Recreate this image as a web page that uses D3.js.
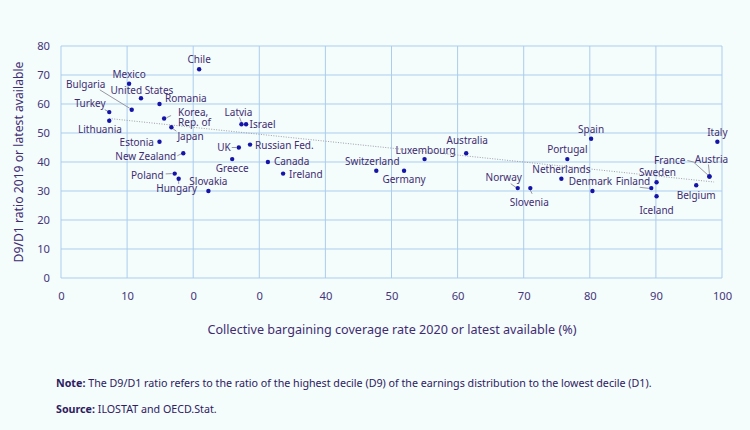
<!DOCTYPE html>
<html><head><meta charset="utf-8">
<script src="https://cdn.jsdelivr.net/npm/d3@7"></script>
<style>
html,body{margin:0;padding:0;background:#f4fcfc;}
svg{display:block;font-family:"Noto Sans",sans-serif;}
</style></head>
<body><svg id="c" width="750" height="430"></svg>
<script>
const countries = ["Chile","Mexico","United States","Bulgaria","Romania","Turkey","Lithuania","Korea, Rep. of","Japan","Estonia","New Zealand","Poland","Hungary","Slovakia","Latvia","Israel","UK","Russian Fed.","Greece","Canada","Ireland","Switzerland","Germany","Luxembourg","Australia","Norway","Slovenia","Netherlands","Portugal","Spain","Denmark","Finland","Sweden","Iceland","Belgium","France","Austria","Italy"];
const coverage = [20.9,10.3,12.1,10.7,14.9,7.3,7.3,15.6,16.7,14.9,18.5,17.2,17.8,22.3,27.3,28.0,26.9,28.6,25.9,31.3,33.6,47.7,51.9,55.0,61.3,69.1,71.0,75.7,76.6,80.2,80.4,89.3,90.1,90.1,96.1,98.1,98.1,99.3];
const ratio = [72.0,67.0,62.0,58.0,60.0,57.2,54.2,55.0,52.0,47.0,43.0,36.0,34.2,30.0,53.0,53.0,45.0,46.0,41.0,40.0,36.0,37.0,37.0,41.0,43.0,31.0,31.0,34.2,41.0,48.0,30.0,31.0,33.0,28.2,32.0,35.0,35.0,47.0];
const xTicks = [0,10,20,30,40,50,60,70,80,90,100];
const xTickLabels = ["0","10","0","0","40","50","60","70","80","90","100"];
const yTicks = [0,10,20,30,40,50,60,70,80];
const trendX = [7.3, 98.8];
const trendY = [55.0, 33.1];

// label layout (offsets from the point, in px)
const labelLayout = {
 "Chile":{dx:0,dy:-10,a:"middle"},
 "Mexico":{dx:0,dy:-10,a:"middle"},
 "United States":{dx:1,dy:-8.5,a:"middle"},
 "Bulgaria":{dx:-46,dy:-25.5,a:"middle",l:[[-32,-20],[-2,-1.5]]},
 "Romania":{dx:5.5,dy:-6,a:"start"},
 "Turkey":{dx:-3.6,dy:-9,a:"end",l:[[-4.5,-2.5],[-1.5,-0.8]]},
 "Lithuania":{dx:-9.3,dy:8,a:"middle"},
 "Korea, Rep. of":{dx:14,dy:-6.5,a:"start",lines:["Korea,","Rep. of"],l:[[7,-3],[2.3,-0.7]]},
 "Japan":{dx:6,dy:8.5,a:"start",l:[[1.5,1.5],[5,4]]},
 "Estonia":{dx:-5.5,dy:0,a:"end"},
 "New Zealand":{dx:-7,dy:3,a:"end",l:[[-6,2.5],[-2,0.5]]},
 "Poland":{dx:-11,dy:1,a:"end",l:[[-9,0.3],[-3,0]]},
 "Hungary":{dx:-2,dy:9.5,a:"middle",l:[[0,2],[0,5]]},
 "Slovakia":{dx:0,dy:-10,a:"middle"},
 "Latvia":{dx:-3,dy:-12,a:"middle",l:[[-2,-7],[0,-2]]},
 "Israel":{dx:3.5,dy:0,a:"start"},
 "UK":{dx:-8,dy:-1,a:"end",l:[[-7,0],[-2.5,0]]},
 "Russian Fed.":{dx:5,dy:0,a:"start"},
 "Greece":{dx:0,dy:9,a:"middle"},
 "Canada":{dx:6,dy:-0.6,a:"start"},
 "Ireland":{dx:6,dy:0.8,a:"start"},
 "Switzerland":{dx:-4,dy:-10,a:"middle"},
 "Germany":{dx:0,dy:8,a:"middle"},
 "Luxembourg":{dx:1,dy:-9,a:"middle"},
 "Australia":{dx:1,dy:-13,a:"middle"},
 "Norway":{dx:-14,dy:-11,a:"middle",l:[[-7,-4.4],[-1.5,-0.5]]},
 "Slovenia":{dx:-1,dy:13.7,a:"middle",l:[[0,2],[1.8,5.7]]},
 "Netherlands":{dx:0,dy:-10,a:"middle"},
 "Portugal":{dx:0,dy:-10,a:"middle"},
 "Spain":{dx:0,dy:-10,a:"middle"},
 "Denmark":{dx:-2,dy:-9.6,a:"middle"},
 "Finland":{dx:-1,dy:-6.8,a:"end",l:[[-11.5,-0.8],[-2,0.3]]},
 "Sweden":{dx:1,dy:-10.8,a:"middle"},
 "Iceland":{dx:0,dy:13.3,a:"middle"},
 "Belgium":{dx:0,dy:9.3,a:"middle"},
 "France":{dx:-24,dy:-17,a:"end",l:[[-22,-16],[-16,-14.5],[-1.5,-1.5]]},
 "Austria":{dx:2,dy:-17.7,a:"middle",l:[[-1,-12],[0,-2.5]]},
 "Italy":{dx:0,dy:-10,a:"middle"}
};

const svg = d3.select("#c");
svg.append("rect").attr("width",750).attr("height",430).attr("fill","#f4fcfc");
const x = d3.scaleLinear().domain([0,100]).range([61,722]);
const y = d3.scaleLinear().domain([0,80]).range([278,46]);
const textCol = "#3f2d72", gridCol = "#abcdee";

// grid
svg.append("g").selectAll("line").data(xTicks).join("line")
 .attr("x1",d=>x(d)).attr("x2",d=>x(d)).attr("y1",y(0)).attr("y2",y(80))
 .attr("stroke",gridCol).attr("stroke-width",1);
svg.append("g").selectAll("line").data(yTicks).join("line")
 .attr("y1",d=>y(d)).attr("y2",d=>y(d)).attr("x1",x(0)).attr("x2",x(100))
 .attr("stroke",gridCol).attr("stroke-width",1);

// axes labels
const xa = svg.append("g").attr("transform",`translate(0,${y(0)})`)
 .call(d3.axisBottom(x).tickValues(xTicks).tickFormat((d,i)=>xTickLabels[i]).tickSize(0).tickPadding(14));
xa.select(".domain").remove();
xa.selectAll("text").attr("font-size",11.2).attr("fill","#45357a").attr("font-family","Noto Sans");
const ya = svg.append("g").attr("transform",`translate(${x(0)},0)`)
 .call(d3.axisLeft(y).tickValues(yTicks).tickSize(0).tickPadding(11));
ya.select(".domain").remove();
ya.selectAll("text").attr("font-size",11.2).attr("fill","#45357a").attr("font-family","Noto Sans");

// trend line
svg.append("line").attr("x1",x(trendX[0])).attr("y1",y(trendY[0])).attr("x2",x(trendX[1])).attr("y2",y(trendY[1]))
 .attr("stroke","#a0a0a8").attr("stroke-width",1).attr("stroke-dasharray","1,1.5");

const data = countries.map((c,i)=>({c, x:coverage[i], y:ratio[i]}));

// leaders
const lg = svg.append("g");
data.forEach(d=>{
  const L = labelLayout[d.c];
  if(L && L.l){
    lg.append("polyline").attr("points",L.l.map(p=>[x(d.x)+p[0],y(d.y)+p[1]].join(",")).join(" "))
      .attr("fill","none").attr("stroke","#8c8c96").attr("stroke-width",0.9);
  }
});

// dots
svg.append("g").selectAll("circle").data(data).join("circle")
 .attr("cx",d=>x(d.x)).attr("cy",d=>y(d.y)).attr("r",2.2).attr("fill","#1414a8");

// labels
const tg = svg.append("g").attr("font-size",10).attr("fill",textCol);
data.forEach(d=>{
  const L = labelLayout[d.c];
  const t = tg.append("text").attr("text-anchor",L.a).attr("dominant-baseline","central");
  if(L.lines){
    L.lines.forEach((s,k)=>t.append("tspan").attr("x",x(d.x)+L.dx).attr("y",y(d.y)+L.dy+k*10).text(s));
  } else {
    t.attr("x",x(d.x)+L.dx).attr("y",y(d.y)+L.dy).text(d.c);
  }
});

// titles
svg.append("text").attr("x",392).attr("y",334).attr("text-anchor","middle").attr("font-size",12.6)
 .attr("fill",textCol).text("Collective bargaining coverage rate 2020 or latest available (%)");
svg.append("text").attr("transform","translate(18,162) rotate(-90)").attr("text-anchor","middle")
 .attr("dominant-baseline","central").attr("font-size",12.2).attr("fill",textCol)
 .text("D9/D1 ratio 2019 or latest available");

const note = svg.append("text").attr("x",56).attr("y",387).attr("font-size",10.7).attr("fill","#2d2060");
note.append("tspan").attr("font-weight","bold").text("Note:");
note.append("tspan").text(" The D9/D1 ratio refers to the ratio of the highest decile (D9) of the earnings distribution to the lowest decile (D1).");
const src = svg.append("text").attr("x",56).attr("y",413).attr("font-size",10.7).attr("fill","#2d2060");
src.append("tspan").attr("font-weight","bold").text("Source:");
src.append("tspan").text(" ILOSTAT and OECD.Stat.");
</script></body></html>
